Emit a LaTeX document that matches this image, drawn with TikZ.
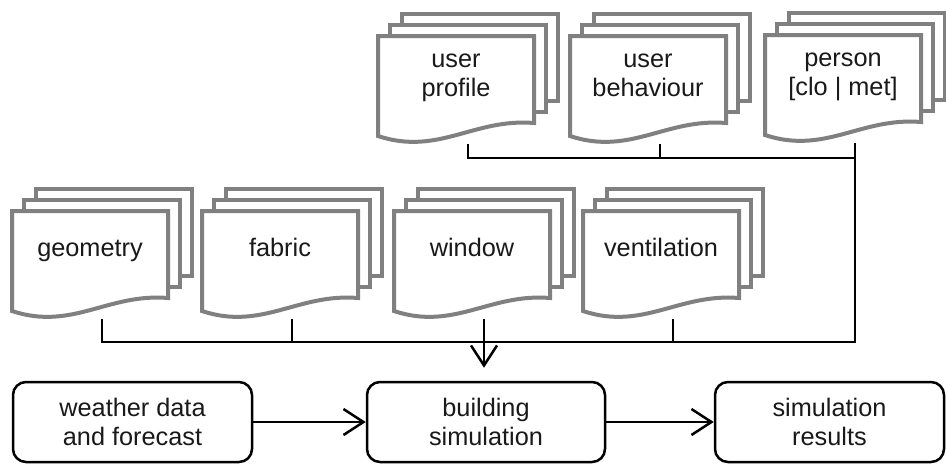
\documentclass[tikz,border=0pt]{standalone}
\usepackage{fontspec}
\setmainfont{Liberation Sans}
\usetikzlibrary{arrows.meta,calc}
\definecolor{docgray}{RGB}{128,128,128}
\definecolor{inkblack}{RGB}{25,25,25}

% stack of three documents: name, left x, top y, text
\newcommand{\docstack}[4]{%
  \foreach \k in {2,1}
    \filldraw[docline] (#2+12*\k,#3-11*\k) rectangle ++(156,87);
  \filldraw[docline] (#2,#3) -- (#2+156,#3) -- (#2+156,#3+87)
    .. controls (#2+96,#3+82) and (#2+60,#3+120) .. (#2,#3+100) -- cycle;
  \node[doctext] (#1) at (#2+78,#3+40) {\strut#4\strut};
  \coordinate (#1-out) at (#2+90,#3+108);
}

\begin{document}
\begin{tikzpicture}
  [x=1pt,y=-1pt,
   docline/.style={draw=docgray,line width=4pt,fill=white},
   doctext/.style={align=center,text=inkblack,font=\fontsize{25.3}{29}\selectfont},
   bus/.style={line width=2.5pt},
   box/.style={draw,line width=2.5pt,rounded corners=13pt,align=center,
     text=inkblack,font=\fontsize{25.3}{29}\selectfont,minimum height=80pt},
   tip/.style={-{Straight Barb[length=20pt,width=26pt]}}]
  \useasboundingbox (0,0) rectangle (946,464);

  \docstack{profile}{378}{36}{user\\profile}
  \docstack{behaviour}{570}{36}{user\\behaviour}
  \docstack{person}{765}{35}{person\\{[clo | met]}}
  \docstack{geometry}{12}{211}{geometry}
  \docstack{fabric}{202}{211}{fabric}
  \docstack{window}{394}{211}{window}
  \docstack{ventilation}{583}{211}{ventilation}

  \node[box,minimum width=239pt] (weather) at (132.5,422) {weather data\\and forecast};
  \node[box,minimum width=238pt] (sim) at (486,422) {building\\simulation};
  \node[box,minimum width=229pt] (results) at (829.5,422) {simulation\\results};

  \coordinate (topbus) at (855,158);
  \coordinate (bus) at (0,342);
  \draw[bus] (profile-out) |- (topbus);
  \draw[bus] (behaviour-out) -- (behaviour-out |- topbus);
  \draw[bus] (person-out) |- (geometry-out |- bus) -- (geometry-out);
  \foreach \n in {fabric,ventilation}
    \draw[bus] (\n-out) -- (\n-out |- bus);
  \draw[bus,tip,shorten >=13pt] (window-out) -- (window-out |- sim.north);

  \draw[bus,tip] (weather) -- (sim);
  \draw[bus,tip] (sim) -- (results);
\end{tikzpicture}
\end{document}
